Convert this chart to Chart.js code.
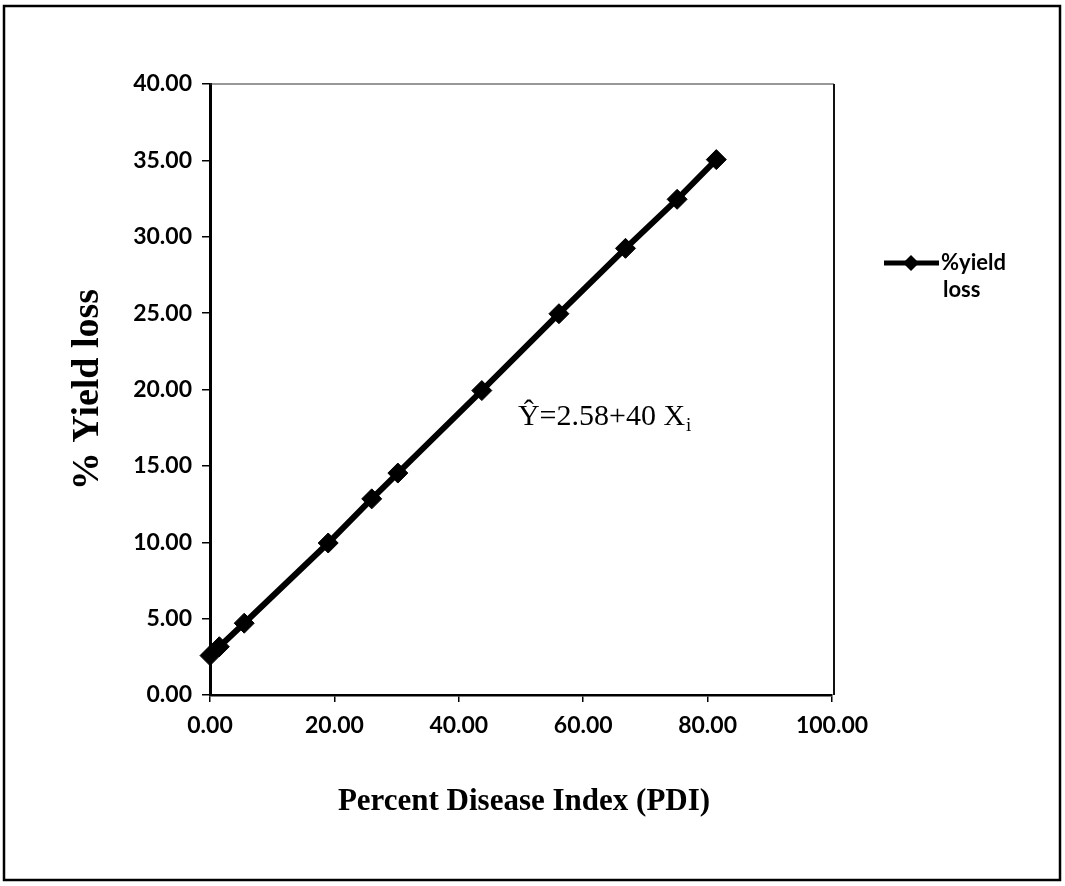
<!DOCTYPE html>
<html><head><meta charset="utf-8">
<script src="https://cdn.jsdelivr.net/npm/chart.js@4/dist/chart.umd.min.js"></script>
<style>html,body{margin:0;padding:0;background:#fff;overflow:hidden}canvas{display:block}</style>
</head><body>
<canvas id="c" width="1065" height="886"></canvas>
<script>
// ---- data ----
const seriesLabel = '%yield loss';
const pdi = [0, 1.5, 5.5, 19.0, 26.0, 30.2, 43.7, 56.1, 66.8, 75.1, 81.4];
const yieldLoss = [2.58, 3.16, 4.70, 9.95, 12.84, 14.53, 19.93, 24.96, 29.24, 32.45, 35.05];
const xRange = [0, 100];
const xStep = 20;
const yRange = [0, 40];
const yStep = 5;
const xTitle = 'Percent Disease Index (PDI)';
const yTitle = '% Yield loss';
const equationMain = '\u0176=2.58+40 X';
const equationSub = 'i';

const tickFont = {family: 'Lato', weight: 'bold', size: 23};

const decor = {
  id: 'decor',
  afterDraw(chart) {
    const ctx = chart.ctx, a = chart.chartArea;
    const xs = chart.scales.x, ys = chart.scales.y;
    ctx.save();
    // outer frame
    ctx.strokeStyle = '#000'; ctx.lineWidth = 2.5;
    ctx.strokeRect(4, 6, 1056, 874);
    // plot area top / right border
    ctx.lineWidth = 1.2; ctx.strokeStyle = '#333';
    ctx.beginPath(); ctx.moveTo(a.left, a.top); ctx.lineTo(a.right + 2, a.top); ctx.stroke();
    ctx.lineWidth = 2; ctx.strokeStyle = '#111';
    ctx.beginPath(); ctx.moveTo(a.right + 2, a.top); ctx.lineTo(a.right + 2, a.bottom); ctx.stroke();
    // axis titles
    ctx.fillStyle = '#000';
    ctx.textAlign = 'center'; ctx.textBaseline = 'middle';
    ctx.font = 'bold 31px "Liberation Serif"';
    ctx.fillText(xTitle, (a.left + a.right) / 2 + 3, 802);
    ctx.save();
    ctx.translate(88, (a.top + a.bottom) / 2);
    ctx.rotate(-Math.PI / 2);
    ctx.font = 'bold 38px "Liberation Serif"';
    ctx.fillText(yTitle, 0, 0);
    ctx.restore();
    // equation annotation
    ctx.textAlign = 'left'; ctx.textBaseline = 'alphabetic';
    ctx.font = '30px "Liberation Serif"';
    const ex = xs.getPixelForValue(49.5), ey = ys.getPixelForValue(17.7);
    ctx.fillText(equationMain, ex, ey);
    const w = ctx.measureText(equationMain).width;
    ctx.font = '19px "Liberation Serif"';
    ctx.fillText(equationSub, ex + w + 1, ey + 6);
    // legend
    const ds = chart.data.datasets[0];
    const lx = 884, ly = 263;
    ctx.strokeStyle = ds.borderColor; ctx.lineWidth = 5;
    ctx.beginPath(); ctx.moveTo(lx, ly); ctx.lineTo(lx + 55, ly); ctx.stroke();
    ctx.fillStyle = ds.backgroundColor;
    ctx.beginPath();
    const cx = lx + 27, r = 8;
    ctx.moveTo(cx, ly - r); ctx.lineTo(cx + r, ly); ctx.lineTo(cx, ly + r); ctx.lineTo(cx - r, ly); ctx.closePath(); ctx.fill();
    ctx.fillStyle = '#000';
    ctx.font = 'bold 22px Lato';
    ctx.textBaseline = 'middle';
    const parts = ds.label.split(' ');
    parts.forEach((p, i) => ctx.fillText(p, lx + 57 + (i ? 2 : 0), ly + i * 27));
    ctx.restore();
  }
};

new Chart(document.getElementById('c'), {
  type: 'scatter',
  data: {
    datasets: [{
      label: seriesLabel,
      data: pdi.map((x, i) => ({x: x, y: yieldLoss[i]})),
      showLine: true,
      borderColor: '#000',
      backgroundColor: '#000',
      borderWidth: 6,
      pointStyle: 'rectRot',
      pointRadius: 10,
      pointHoverRadius: 10,
      pointBorderWidth: 1,
      clip: false
    }]
  },
  options: {
    responsive: false,
    devicePixelRatio: 1,
    animation: false,
    layout: {padding: {top: 84, right: 233, left: 0, bottom: 0}},
    plugins: {legend: {display: false}, tooltip: {enabled: false}},
    scales: {
      x: {
        type: 'linear', min: xRange[0], max: xRange[1],
        ticks: {stepSize: xStep, callback: v => v.toFixed(2), font: tickFont, color: '#000', padding: 10, maxRotation: 0},
        grid: {drawOnChartArea: false, drawTicks: true, tickLength: 7, color: '#000', lineWidth: 1.5},
        border: {display: true, color: '#000', width: 2.5},
        afterFit: s => { s.height = 191; }
      },
      y: {
        type: 'linear', min: yRange[0], max: yRange[1],
        ticks: {stepSize: yStep, callback: v => v.toFixed(2), font: tickFont, color: '#000', padding: 10},
        grid: {drawOnChartArea: false, drawTicks: true, tickLength: 8, color: '#000', lineWidth: 1.5},
        border: {display: true, color: '#000', width: 3},
        afterFit: s => { s.width = 210; }
      }
    }
  },
  plugins: [decor]
});
</script>
</body></html>
